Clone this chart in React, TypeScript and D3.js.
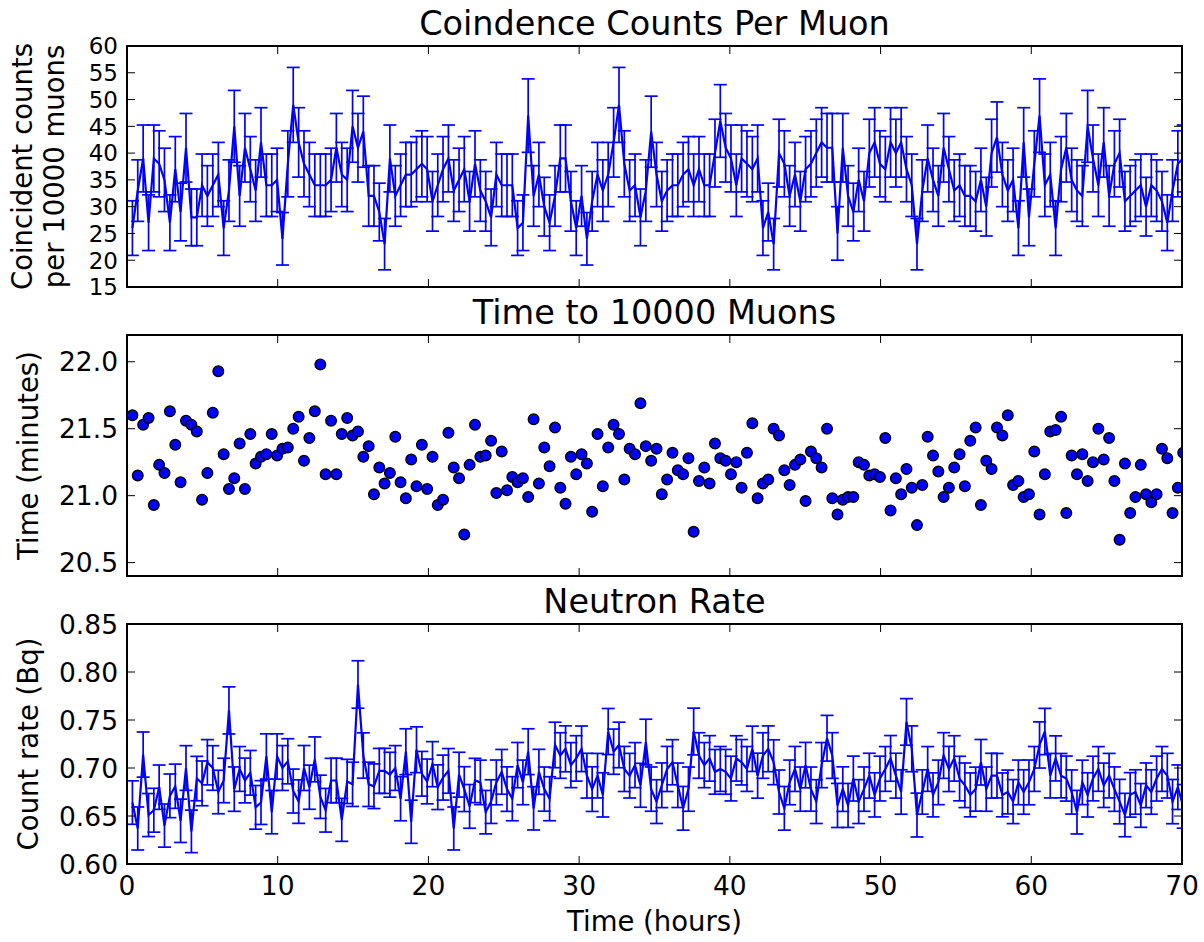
import React from 'react';
import * as d3 from 'd3';

// Time (minutes) needed to collect 10000 muons, one entry per run
const minutesTo10000: number[] = [
  21.60, 21.15, 21.53, 21.58, 20.93, 21.23, 21.17, 21.63, 21.38, 21.10,
  21.56, 21.53, 21.48, 20.97, 21.17, 21.62, 21.93, 21.31, 21.05, 21.13,
  21.39, 21.05, 21.46, 21.24, 21.29, 21.31, 21.46, 21.30, 21.35, 21.36,
  21.50, 21.59, 21.26, 21.43, 21.63, 21.98, 21.16, 21.56, 21.16, 21.46,
  21.58, 21.45, 21.48, 21.29, 21.37, 21.01, 21.21, 21.09, 21.17, 21.44,
  21.10, 20.98, 21.27, 21.07, 21.38, 21.05, 21.29, 20.93, 20.97, 21.47,
  21.21, 21.13, 20.71, 21.23, 21.53, 21.29,
  21.30, 21.41, 21.02, 21.33, 21.04, 21.14, 21.10, 21.13, 20.99, 21.57,
  21.09, 21.36, 21.22, 21.51, 21.06, 20.94, 21.29, 21.16, 21.31, 21.24,
  20.88, 21.46, 21.07, 21.36, 21.53, 21.46, 21.12, 21.35, 21.31, 21.69,
  21.37, 21.26, 21.35, 21.01, 21.12, 21.32, 21.19, 21.16, 21.28, 20.73,
  21.11, 21.21, 21.09, 21.39, 21.28, 21.26, 21.16, 21.25, 21.06, 21.32,
  21.54, 20.98, 21.09, 21.12, 21.50, 21.45, 21.19, 21.08, 21.23, 21.27,
  20.96, 21.33, 21.28, 21.21, 21.50,
  20.98, 20.86, 20.97, 20.99, 20.99, 21.25, 21.23, 21.15, 21.16,
  21.14, 21.43, 20.89, 21.13, 21.01, 21.20, 21.06, 20.78, 21.08, 21.44,
  21.30, 21.18, 20.99, 21.06, 21.21, 21.31, 21.07, 21.41, 21.51, 20.93,
  21.26, 21.20, 21.51, 21.45, 21.60, 21.08, 21.11, 20.99, 21.01, 21.33,
  20.86, 21.16, 21.48, 21.49, 21.59, 20.87, 21.30, 21.16, 21.31, 21.11,
  21.25, 21.50, 21.27, 21.43, 21.11, 20.67, 21.24, 20.87, 20.99, 21.23,
  21.01, 20.95, 21.01, 21.35, 21.28, 20.87, 21.06, 21.32,
];

// Coincident counts per 10000 muons
const coincidentCounts: number[] = [
  26, 33, 39, 27, 39, 38, 35, 27, 37, 29,
  41, 28, 28, 34, 32, 34, 36, 26, 33, 45,
  32, 41, 37, 33, 42, 34, 34, 35, 24, 38,
  49, 42, 38, 36, 34, 34, 34, 35, 41, 36,
  35, 45, 41, 44, 32, 32, 29, 23, 39, 32,
  34, 36, 36, 37, 38, 37, 31, 34, 37, 39,
  33, 35, 37, 31, 38, 33,
  31, 28, 36, 34, 34, 34, 26, 27, 47, 32,
  36, 30, 27, 32, 39, 39, 31, 26, 32, 24,
  31, 36, 33, 36, 42, 49, 38, 33, 34, 28,
  33, 44, 36, 31, 33, 34, 34, 36, 37, 34,
  37, 34, 34, 40, 46, 41, 39, 34, 39, 38,
  37, 39, 26, 29, 23, 40, 38, 32, 36, 31,
  37, 38, 40, 42, 41,
  41, 25, 41, 32, 29, 35, 31, 40, 42,
  38, 37, 42, 40, 42, 37, 34, 23, 33, 39,
  35, 32, 41, 37, 33, 34, 32, 32, 31, 35,
  30, 40, 43, 36, 33, 35, 26, 42, 28, 38,
  47, 34, 36, 26, 37, 41, 35, 33, 32, 45,
  39, 34, 42, 32, 38, 40, 31, 32, 33, 34,
  30, 34, 33, 31, 27, 33, 38, 39,
];

// Neutron count rate (Bq)
const neutronRate: number[] = [
  0.664, 0.637, 0.714, 0.651, 0.656, 0.680, 0.640, 0.671, 0.681, 0.645,
  0.700, 0.634, 0.689, 0.684, 0.706, 0.700, 0.675, 0.687, 0.760, 0.678,
  0.699, 0.687, 0.695, 0.659, 0.664, 0.712, 0.654, 0.712, 0.700, 0.707,
  0.676, 0.665, 0.700, 0.680, 0.709, 0.670, 0.656, 0.687, 0.687, 0.646,
  0.686, 0.683, 0.787, 0.713, 0.683, 0.681, 0.697, 0.697, 0.693, 0.700,
  0.668, 0.717, 0.644, 0.719, 0.694, 0.686, 0.704, 0.680, 0.690, 0.697,
  0.637, 0.693, 0.678, 0.660, 0.687, 0.685,
  0.654, 0.665, 0.685, 0.696, 0.678, 0.668, 0.703, 0.685, 0.717, 0.658,
  0.696, 0.678, 0.668, 0.724, 0.713, 0.720, 0.703, 0.710, 0.720, 0.692,
  0.678, 0.692, 0.672, 0.738, 0.717, 0.724, 0.699, 0.692, 0.703, 0.682,
  0.727, 0.678, 0.665, 0.682, 0.699, 0.706, 0.682, 0.658, 0.678, 0.738,
  0.713, 0.703, 0.710, 0.696, 0.699, 0.696, 0.689, 0.710, 0.706, 0.699,
  0.720, 0.692, 0.713, 0.720, 0.706, 0.675, 0.658, 0.685, 0.699, 0.678,
  0.703, 0.678, 0.665, 0.703, 0.731,
  0.713, 0.661, 0.678, 0.661, 0.689, 0.665, 0.678, 0.692, 0.672,
  0.689, 0.699, 0.710, 0.692, 0.675, 0.748, 0.720, 0.651, 0.675, 0.699,
  0.672, 0.685, 0.713, 0.699, 0.710, 0.689, 0.682, 0.672, 0.678, 0.706,
  0.678, 0.692, 0.692, 0.672, 0.675, 0.665, 0.685, 0.675, 0.685, 0.699,
  0.724, 0.738, 0.692, 0.710, 0.692, 0.689, 0.675, 0.654, 0.685, 0.672,
  0.689, 0.699, 0.682, 0.692, 0.678, 0.665, 0.651, 0.672, 0.675, 0.661,
  0.682, 0.675, 0.689, 0.699, 0.692, 0.665, 0.680, 0.660,
];

const hourTicks = [0, 10, 20, 30, 40, 50, 60, 70];
const coincTicks = [15, 20, 25, 30, 35, 40, 45, 50, 55, 60];
const minuteTicks = [20.5, 21.0, 21.5, 22.0];
const rateTicks = [0.6, 0.65, 0.7, 0.75, 0.8, 0.85];

const W = 1204;
const H = 942;
const LEFT = 127;
const RIGHT = 1182;
const FONT = "'DejaVu Sans', sans-serif";
const BLUE = '#0000ff';

const hours = Array.from(d3.cumsum(minutesTo10000), (m) => m / 60);
const x = d3.scaleLinear().domain([0, 70]).range([LEFT, RIGHT]);

type PanelProps = {
  id: string;
  top: number;
  bottom: number;
  domain: [number, number];
  ticks: number[];
  fmt: (v: number) => string;
  title: string;
  ylabel: string[];
  showX: boolean;
  tickFont: number;
  children: (y: d3.ScaleLinear<number, number>) => React.ReactNode;
};

function Panel({ id, top, bottom, domain, ticks, fmt, title, ylabel, showX, tickFont, children }: PanelProps) {
  const y = d3.scaleLinear().domain(domain).range([bottom, top]);
  const tl = 8;
  const midY = (top + bottom) / 2;
  return (
    <g>
      <defs>
        <clipPath id={id}>
          <rect x={LEFT} y={top} width={RIGHT - LEFT} height={bottom - top} />
        </clipPath>
      </defs>
      <g clipPath={`url(#${id})`}>{children(y)}</g>
      {hourTicks.map((t) => (
        <g key={'x' + t} stroke="#000" strokeWidth={1}>
          <line x1={x(t)} x2={x(t)} y1={bottom} y2={bottom - tl} />
          <line x1={x(t)} x2={x(t)} y1={top} y2={top + tl} />
        </g>
      ))}
      {ticks.map((t) => (
        <g key={'y' + t} stroke="#000" strokeWidth={1}>
          <line x1={LEFT} x2={LEFT + tl} y1={y(t)} y2={y(t)} />
          <line x1={RIGHT} x2={RIGHT - tl} y1={y(t)} y2={y(t)} />
        </g>
      ))}
      <rect x={LEFT} y={top} width={RIGHT - LEFT} height={bottom - top} fill="none" stroke="#000" strokeWidth={2} />
      {ticks.map((t) => (
        <text key={'yl' + t} x={LEFT - 9} y={y(t)} dy="0.36em" textAnchor="end" fontSize={tickFont} fontFamily={FONT}>
          {fmt(t)}
        </text>
      ))}
      {showX &&
        hourTicks.map((t) => (
          <text key={'xl' + t} x={x(t)} y={bottom + 31} textAnchor="middle" fontSize={26.5} fontFamily={FONT}>
            {t}
          </text>
        ))}
      <text x={(LEFT + RIGHT) / 2} y={top - 11} textAnchor="middle" fontSize={33.5} fontFamily={FONT}>
        {title}
      </text>
      {ylabel.map((s, i) => (
        <text
          key={s}
          transform={`translate(${ylabel.length === 1 ? 38 : 32 + i * 32},${midY}) rotate(-90)`}
          textAnchor="middle"
          fontSize={27.5}
          fontFamily={FONT}
        >
          {s}
        </text>
      ))}
    </g>
  );
}

function ErrorLine({ y, values, errors }: { y: d3.ScaleLinear<number, number>; values: number[]; errors: number[] }) {
  const line = d3
    .line<number>()
    .x((_, i) => x(hours[i]))
    .y((v) => y(v));
  const cap = 6.5;
  return (
    <g>
      {values.map((v, i) => {
        const cx = x(hours[i]);
        const y1 = y(v - errors[i]);
        const y2 = y(v + errors[i]);
        return (
          <g key={i} stroke={BLUE} strokeWidth={1.7}>
            <line x1={cx} x2={cx} y1={y1} y2={y2} />
            <line x1={cx - cap} x2={cx + cap} y1={y1} y2={y1} />
            <line x1={cx - cap} x2={cx + cap} y1={y2} y2={y2} />
          </g>
        );
      })}
      <path d={line(values) || ''} fill="none" stroke={BLUE} strokeWidth={2.2} strokeLinejoin="miter" />
    </g>
  );
}

export default function App() {
  const coincErr = coincidentCounts.map((c) => Math.sqrt(c));
  const rateErr = neutronRate.map((r, i) => Math.sqrt(r / (minutesTo10000[i] * 60)));
  return (
    <svg width={W} height={H} style={{ position: 'absolute', left: 0, top: 0, background: '#fff' }}>
      <rect width={W} height={H} fill="#fff" />
      <Panel
        id="c1"
        top={46}
        bottom={287}
        domain={[15, 60]}
        ticks={coincTicks}
        fmt={(v) => String(v)}
        title="Coindence Counts Per Muon"
        ylabel={['Coincident counts', 'per 10000 muons']}
        showX={false}
        tickFont={23}
      >
        {(y) => <ErrorLine y={y} values={coincidentCounts} errors={coincErr} />}
      </Panel>
      <Panel
        id="c2"
        top={335}
        bottom={576}
        domain={[20.4, 22.2]}
        ticks={minuteTicks}
        fmt={(v) => v.toFixed(1)}
        title="Time to 10000 Muons"
        ylabel={['Time (minutes)']}
        showX={false}
        tickFont={26.5}
      >
        {(y) => (
          <g>
            {minutesTo10000.map((m, i) => (
              <circle key={i} cx={x(hours[i])} cy={y(m)} r={5.3} fill={BLUE} stroke="#000" strokeWidth={1.4} />
            ))}
          </g>
        )}
      </Panel>
      <Panel
        id="c3"
        top={624}
        bottom={864}
        domain={[0.6, 0.85]}
        ticks={rateTicks}
        fmt={(v) => v.toFixed(2)}
        title="Neutron Rate"
        ylabel={['Count rate (Bq)']}
        showX={true}
        tickFont={26.5}
      >
        {(y) => <ErrorLine y={y} values={neutronRate} errors={rateErr} />}
      </Panel>
      <text x={(LEFT + RIGHT) / 2} y={931} textAnchor="middle" fontSize={27.5} fontFamily={FONT}>
        Time (hours)
      </text>
    </svg>
  );
}
